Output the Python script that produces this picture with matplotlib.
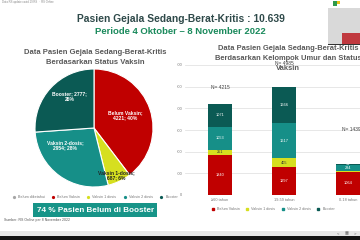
import matplotlib
matplotlib.use("Agg")
import matplotlib.pyplot as plt
import numpy as np
from matplotlib.patches import Rectangle
from matplotlib.lines import Line2D

plt.rcParams['font.family'] = ['Liberation Sans', 'DejaVu Sans']

W, H = 360, 240

# --- data ---
status = ['Belum Vaksin', 'Vaksin 1-dosis', 'Vaksin 2-dosis', 'Booster']
status_total = [4221, 687, 2954, 2777]
status_colors = ['#c00000', '#d6df1f', '#168f88', '#0b5a54']

umur = ['≥60 tahun', '19-59 tahun', '0-18 tahun']
belum = [1840, 1297, 1064]
dosis1 = [251, 405, 30]
dosis2 = [1053, 1617, 284]
booster = [1071, 1666, 61]
n_umur = [4215, 4985, 1439]
bar_legend = ['Belum Vaksin', 'Vaksin 1 dosis', 'Vaksin 2 dosis', 'Booster']
pie_legend = ['Belum diketahui', 'Belum Vaksin', 'Vaksin 1 dosis', 'Vaksin 2 dosis', 'Booster']
yticks = [0, 1000, 2000, 3000, 4000, 5000, 6000]


def fx(px):
    return px / W


def fy(py):
    return 1 - py / H


fig = plt.figure(figsize=(W / 100, H / 100), dpi=100)
fig.patch.set_facecolor('white')

# --- bar chart (right) ---
ax = fig.add_axes([fx(185), fy(195), (380 - 185) / W, (195 - 65) / H])
x = np.arange(len(umur))
bw = 0.375
bottom = np.zeros(len(umur))
layers = [belum, dosis1, dosis2, booster]
for vals, col in zip(layers, status_colors):
    vals = np.array(vals)
    ax.bar(x, vals, bw, bottom=bottom, color=col, zorder=2)
    for xi, v, b in zip(x, vals, bottom):
        if v >= 50:
            tc = '#333333' if col == status_colors[1] else 'white'
            ax.text(xi, b + v / 2, str(v), ha='center', va='center',
                    fontsize=2.8, color=tc, zorder=3)
    bottom += vals
ax.set_xlim(-0.547, 2.5)
ax.set_ylim(0, 6000)
ax.set_yticks(yticks)
ax.set_yticklabels([f'{t:,}'.replace(',', '.') for t in yticks])
ax.set_xticks(x)
ax.set_xticklabels(umur)
ax.tick_params(length=0, labelsize=2.8, colors='#777777', pad=2)
ax.grid(axis='y', color='#dddddd', lw=0.5, zorder=0)
for s in ax.spines.values():
    s.set_visible(False)
ax.text(0, n_umur[0] + 700, f'N= {n_umur[0]}', ha='center', fontsize=3.5, color='#404040')
ax.text(1, n_umur[1] + 1020, f'N= {n_umur[1]}', ha='center', fontsize=3.5, color='#404040')
ax.text(2.05, n_umur[2] + 1500, f'N= {n_umur[2]}', ha='center', fontsize=3.5, color='#404040')

handles = [Line2D([], [], marker='s', ls='', color=c, markersize=1.8) for c in status_colors]
fig.legend(handles, bar_legend, loc='center', bbox_to_anchor=(fx(272), fy(209)),
           ncol=4, frameon=False, fontsize=2.7, handletextpad=0.1, columnspacing=1.0,
           labelcolor='#777777')

for yy, line in zip([49, 58.5, 68], ['Data Pasien Gejala Sedang-Berat-Kritis',
                                     'Berdasarkan Kelompok Umur dan Status', 'Vaksin']):
    fig.text(fx(288), fy(yy), line, ha='center', va='center',
             fontsize=5.4, fontweight='bold', color='#595959')

# white left panel covering the cut y labels
fig.patches.append(Rectangle((0, fy(228)), fx(177), (228 - 40) / H, transform=fig.transFigure,
                             facecolor='white', edgecolor='none', zorder=1))

# --- pie (left) ---
axp = fig.add_axes([fx(35), fy(187), 118 / W, 118 / H], zorder=2)
wedges, _ = axp.pie(status_total, colors=status_colors, startangle=90, counterclock=False,
                    wedgeprops=dict(edgecolor='white', linewidth=0.8))
axp.set_xlim(-1, 1)
axp.set_ylim(-1, 1)
axp.set_aspect('equal')
axp.axis('off')
tot = sum(status_total)
pct = [round(v / tot * 100) for v in status_total]
pie_txt = [f'{status[0]};\n{status_total[0]}; {pct[0]}%',
           f'{status[1]};\n{status_total[1]}; {pct[1]}%',
           f'{status[2]};\n{status_total[2]}; {pct[2]}%',
           f'{status[3]}; {status_total[3]};\n{pct[3]}%']
pie_pos = [(0.53, 0.22), (0.38, -0.80), (-0.49, -0.29), (-0.41, 0.53)]
pie_tc = ['white', '#222222', 'white', 'white']
for t, p, c in zip(pie_txt, pie_pos, pie_tc):
    axp.text(p[0], p[1], t, ha='center', va='center', fontsize=3.6, fontweight='bold',
             color=c, linespacing=1.1)

fig.text(fx(95), fy(52.5), 'Data Pasien Gejala Sedang-Berat-Kritis', ha='center', va='center',
         fontsize=5.5, fontweight='bold', color='#595959')
fig.text(fx(95), fy(62), 'Berdasarkan Status Vaksin', ha='center', va='center',
         fontsize=5.5, fontweight='bold', color='#595959')

ph = [Line2D([], [], marker='o', ls='', color=c, markersize=1.3)
      for c in ['#a6a6a6'] + status_colors]
fig.legend(ph, pie_legend, loc='center', bbox_to_anchor=(fx(94), fy(197)),
           ncol=5, frameon=False, fontsize=2.7, handletextpad=0.1, columnspacing=1.2,
           labelcolor='#777777')

# green note box
fig.patches.append(Rectangle((fx(33), fy(217)), fx(157) - fx(33), 14 / H,
                             transform=fig.transFigure, facecolor='#179488',
                             edgecolor='none', zorder=2))
fig.text(fx(96), fy(210), '74 % Pasien Belum di Booster', ha='center', va='center',
         fontsize=5.9, fontweight='bold', color='white', zorder=3)
fig.text(fx(70), fy(220.5), 'Sumber: RS Online per 8 November 2022', ha='right', va='center',
         fontsize=2.5, color='#555555')

# --- header ---
fig.text(fx(181), fy(18.5), 'Pasien Gejala Sedang-Berat-Kritis : 10.639', ha='center',
         va='center', fontsize=7.4, fontweight='bold', color='#2f4a4a')
fig.text(fx(180), fy(31), 'Periode 4 Oktober \u2013 8 November 2022', ha='center',
         va='center', fontsize=6.8, fontweight='bold', color='#1a8a5c')
fig.text(fx(2), fy(2.5), 'Data RS update covid 19 RS  \u00b7  RS Online', ha='left',
         va='center', fontsize=2.0, color='#888888')

# photo / logo top right
fig.patches.append(Rectangle((fx(328), fy(44)), fx(32), 36 / H, transform=fig.transFigure,
                             facecolor='#d9d9d9', edgecolor='none', zorder=1))
fig.patches.append(Rectangle((fx(342), fy(44)), fx(18), 11 / H, transform=fig.transFigure,
                             facecolor='#c0393f', edgecolor='none', zorder=1))
fig.patches.append(Rectangle((fx(328), fy(45)), fx(32), 1.2 / H, transform=fig.transFigure,
                             facecolor='#333333', edgecolor='none', zorder=1))
fig.patches.append(Rectangle((fx(333), fy(6)), fx(4), 5 / H, transform=fig.transFigure,
                             facecolor='#2e9a4a', edgecolor='none', zorder=1))
fig.patches.append(Rectangle((fx(337), fy(4)), fx(3), 3 / H, transform=fig.transFigure,
                             facecolor='#e8c21a', edgecolor='none', zorder=1))

# bottom toolbar
fig.patches.append(Rectangle((0, fy(236)), 1, 5 / H, transform=fig.transFigure,
                             facecolor='#e6e6e6', edgecolor='none', zorder=1))
fig.patches.append(Rectangle((0, 0), 1, 4 / H, transform=fig.transFigure,
                             facecolor='#111111', edgecolor='none', zorder=1))
for px_, s in zip([338, 347, 355], ['<', '\u25a6', '>']):
    fig.text(fx(px_), fy(233.5), s, ha='center', va='center', fontsize=3, color='#666666')

fig.savefig('out.png', dpi=100)
